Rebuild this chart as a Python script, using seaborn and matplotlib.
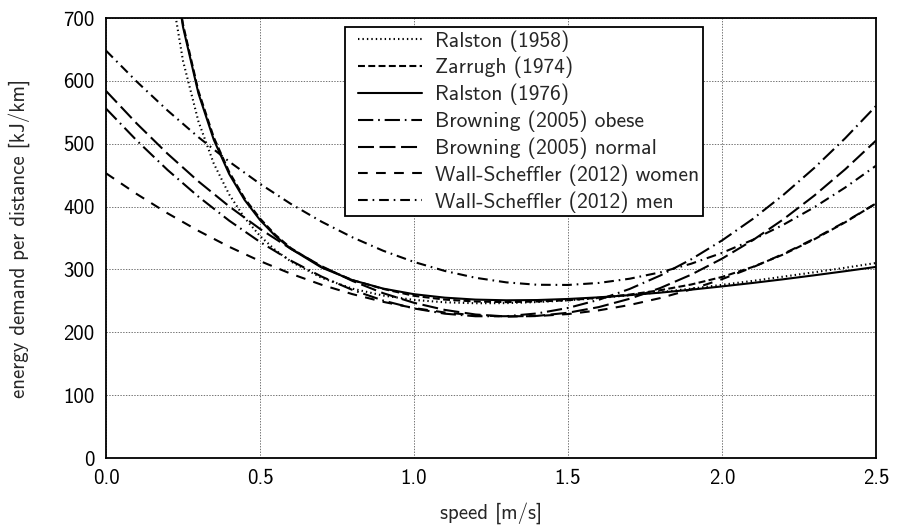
import matplotlib
matplotlib.use("Agg")
import matplotlib.pyplot as plt
from matplotlib.lines import Line2D
from matplotlib.legend_handler import HandlerLine2D
import seaborn as sns
import pandas as pd

# ---- data ----
models = ["Ralston (1958)", "Zarrugh (1974)", "Ralston (1976)",
          "Browning (2005) obese", "Browning (2005) normal",
          "Wall-Scheffler (2012) women", "Wall-Scheffler (2012) men"]

speed_hyp = [0.2, 0.25, 0.3, 0.35, 0.4, 0.45, 0.5, 0.55, 0.6, 0.7, 0.8, 0.9,
             1.0, 1.1, 1.2, 1.3, 1.4, 1.5, 1.6, 1.7, 1.8, 1.9, 2.0, 2.1,
             2.2, 2.3, 2.4, 2.5]
speed_quad = [0.0, 0.1, 0.2, 0.3, 0.4, 0.5, 0.6, 0.7, 0.8, 0.9, 1.0, 1.1,
              1.2, 1.3, 1.4, 1.5, 1.6, 1.7, 1.8, 1.9, 2.0, 2.1, 2.2, 2.3,
              2.4, 2.5]

ralston1958 = [778.5, 631.8, 535.6, 468.3, 419.2, 382.0, 353.3, 330.7, 312.7,
               286.6, 269.4, 258.4, 251.5, 247.7, 246.2, 246.4, 248.1, 250.8,
               254.5, 258.9, 263.9, 269.4, 275.5, 281.8, 288.6, 295.5, 302.7,
               310.2]
zarrugh1974 = [850.0, 690.0, 584.0, 510.0, 455.0, 413.0, 381.0, 355.0, 334.0,
               304.0, 283.0, 269.0, 258.0, 252.0, 249.0, 248.0, 249.0, 251.0,
               255.0, 260.0, 267.0, 276.0, 288.0, 304.0, 324.0, 348.0, 375.0,
               405.0]
ralston1976 = [846.5, 685.8, 580.2, 506.2, 451.8, 410.6, 378.6, 353.2, 332.9,
               303.0, 283.0, 269.5, 260.6, 255.1, 252.0, 250.9, 251.3, 253.0,
               255.6, 259.1, 263.1, 267.8, 273.0, 278.5, 284.4, 290.7, 297.2,
               304.0]
browning_obese = [555.9, 505.0, 458.2, 415.8, 377.6, 343.7, 314.0, 288.6,
                  267.4, 250.5, 237.9, 229.6, 225.5, 225.6, 230.0, 238.7,
                  251.7, 268.9, 290.4, 316.1, 346.1, 380.3, 418.9, 461.6,
                  508.7, 560.0]
browning_normal = [584.0, 532.0, 484.0, 440.1, 400.3, 364.5, 332.8, 305.2,
                   281.7, 262.2, 246.9, 235.6, 228.3, 225.2, 226.1, 231.1,
                   240.1, 253.3, 270.5, 291.7, 317.1, 346.5, 380.0, 417.6,
                   459.3, 505.0]
ws_women = [453.0, 419.9, 389.3, 361.4, 336.0, 313.3, 293.2, 275.6, 260.7,
            248.4, 238.6, 231.5, 227.0, 225.1, 225.8, 229.0, 234.9, 243.4,
            254.5, 268.2, 284.5, 303.4, 324.9, 349.0, 375.7, 405.0]
ws_men = [648.1, 598.7, 552.8, 510.4, 471.5, 436.2, 404.3, 375.9, 351.1,
          329.7, 311.9, 297.6, 286.7, 279.4, 275.6, 275.3, 278.5, 285.2,
          295.4, 309.1, 326.3, 347.1, 371.3, 399.0, 430.3, 465.0]

series = [
    (models[0], speed_hyp, ralston1958),
    (models[1], speed_hyp, zarrugh1974),
    (models[2], speed_hyp, ralston1976),
    (models[3], speed_quad, browning_obese),
    (models[4], speed_quad, browning_normal),
    (models[5], speed_quad, ws_women),
    (models[6], speed_quad, ws_men),
]
rows = []
for name, xs, ys in series:
    for x, y in zip(xs, ys):
        rows.append({"speed": x, "energy": y, "model": name})
df = pd.DataFrame(rows)

# ---- style ----
sns.set_theme(style="white")
plt.rcParams["font.family"] = ["cmss10", "DejaVu Sans"]
plt.rcParams["axes.formatter.use_mathtext"] = True
plt.rcParams["mathtext.fontset"] = "cm"
plt.rcParams["lines.scale_dashes"] = False

dashes = {
    models[0]: (1.0, 2.2),
    models[1]: (5.0, 2.4),
    models[2]: "",
    models[3]: (11.0, 3.5, 1.2, 3.5),
    models[4]: (11.5, 4.0),
    models[5]: (7.0, 6.0),
    models[6]: (7.0, 3.5, 1.2, 3.5),
}
palette = {m: "black" for m in models}

fig = plt.figure(figsize=(8.98, 5.29), dpi=100)
ax = fig.add_axes([106 / 898, 1 - 458 / 529, 770 / 898, 440 / 529])

sns.lineplot(data=df, x="speed", y="energy", hue="model", style="model",
             hue_order=models, style_order=models, palette=palette,
             dashes=dashes, estimator=None, linewidth=1.5, ax=ax)

ax.set_xlim(0, 2.5)
ax.set_ylim(0, 700)
ax.set_xticks([0.0, 0.5, 1.0, 1.5, 2.0, 2.5])
ax.set_xticklabels(["0.0", "0.5", "1.0", "1.5", "2.0", "2.5"])
ax.set_yticks(range(0, 701, 100))
ax.set_yticklabels([str(v) for v in range(0, 701, 100)])
ax.tick_params(axis="both", labelsize=15, direction="in", length=3,
               colors="black", pad=8)
ax.grid(True, linestyle=(0, (1, 1)), color="0.45", linewidth=0.7)
for s in ax.spines.values():
    s.set_color("black")
    s.set_linewidth(1.3)

ax.set_xlabel("speed [m/s]", fontsize=15, labelpad=10)
ax.set_ylabel("energy demand per distance [kJ/km]", fontsize=15, labelpad=24)

leg = ax.legend(loc="upper left", bbox_to_anchor=(0.31, 0.98), fontsize=15.5,
                frameon=True, fancybox=False, edgecolor="black",
                framealpha=1, handlelength=3.45, handletextpad=0.6,
                labelspacing=0.25, borderpad=0.15, borderaxespad=0,
                handler_map={Line2D: HandlerLine2D(xpad=0.45)})
leg.get_frame().set_linewidth(1.3)

fig.savefig("out.png", dpi=100)
